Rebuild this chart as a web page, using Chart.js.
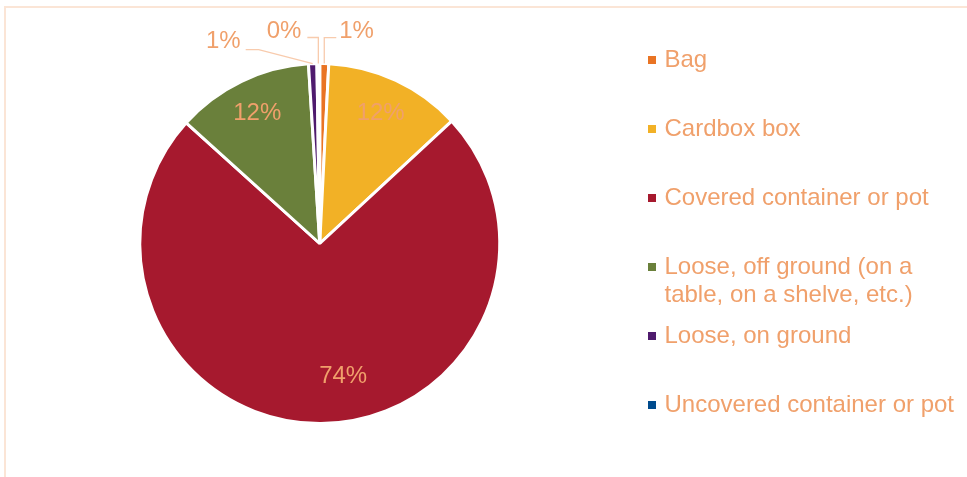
<!DOCTYPE html>
<html>
<head>
<meta charset="utf-8">
<script src="https://cdn.jsdelivr.net/npm/chart.js@4.4.1/dist/chart.umd.min.js"></script>
<style>
  html, body { margin: 0; padding: 0; background: #ffffff; }
  #wrap { width: 967px; height: 477px; position: relative; }
</style>
</head>
<body>
<div id="wrap"><canvas id="c" width="967" height="477"></canvas></div>
<script>
// ---- data ----
const categories = [
  'Bag',
  'Cardbox box',
  'Covered container or pot',
  'Loose, off ground (on a table, on a shelve, etc.)',
  'Loose, on ground',
  'Uncovered container or pot'
];
const shares = [0.8, 12.3, 73.6, 12.3, 0.75, 0.25];

// ---- styling ----
const TEXT_COLOR = '#F0A06B';
const FONT_FAMILY = '"Liberation Sans", Arial, sans-serif';
const LEGEND_WRAP = 300;

function wrapWords(text, maxW, font) {
  const m = document.createElement('canvas').getContext('2d');
  m.font = font;
  const words = text.split(' ');
  const lines = [];
  let cur = '';
  words.forEach(w => {
    const test = cur ? cur + ' ' + w : w;
    if (cur && m.measureText(test).width > maxW) { lines.push(cur); cur = w; }
    else cur = test;
  });
  if (cur) lines.push(cur);
  while (lines.length < 2) lines.push('');
  return lines;
}

const framePlugin = {
  id: 'frame',
  beforeDraw(chart, args, opts) {
    const c = chart.ctx;
    c.save();
    c.fillStyle = '#ffffff';
    c.fillRect(0, 0, chart.width, chart.height);
    c.strokeStyle = opts.color;
    c.lineWidth = 2;
    c.beginPath();
    c.moveTo(5, chart.height);
    c.lineTo(5, 7);
    c.lineTo(chart.width, 7);
    c.stroke();
    c.restore();
  }
};

const sliceLabels = {
  id: 'sliceLabels',
  afterDatasetsDraw(chart, args, opts) {
    const ctx = chart.ctx;
    const meta = chart.getDatasetMeta(0);
    const data = chart.data.datasets[0].data;
    const total = data.reduce((a, b) => a + b, 0);
    ctx.save();
    ctx.font = opts.font;
    ctx.fillStyle = opts.color;
    ctx.textBaseline = 'middle';
    meta.data.forEach((arc, i) => {
      const p = arc.getProps(['x', 'y', 'startAngle', 'endAngle', 'outerRadius'], true);
      const mid = (p.startAngle + p.endAngle) / 2;
      const text = Math.round(data[i] / total * 100) + '%';
      const out = opts.outside[i];
      if (out) {
        const ax = p.x + Math.cos(mid) * p.outerRadius;
        const ay = p.y + Math.sin(mid) * p.outerRadius;
        const ex = ax + out.elbow[0], ey = ay + out.elbow[1];
        const tx = ex + out.tail;
        ctx.strokeStyle = opts.leaderColor;
        ctx.lineWidth = opts.leaderWidth;
        ctx.beginPath();
        ctx.moveTo(ax, ay);
        ctx.lineTo(ex, ey);
        ctx.lineTo(tx, ey);
        ctx.stroke();
        ctx.textAlign = out.tail < 0 ? 'right' : 'left';
        ctx.fillText(text, tx + Math.sign(out.tail) * out.gap, ey + out.dy);
      } else {
        const nd = opts.nudge[i] || [0, 0];
        const r = p.outerRadius * opts.inset;
        ctx.textAlign = 'center';
        ctx.fillText(text, p.x + Math.cos(mid) * r + nd[0], p.y + Math.sin(mid) * r + nd[1]);
      }
    });
    ctx.restore();
  }
};

const legendFont = { family: FONT_FAMILY, size: 24, lineHeight: 28 / 24 };

new Chart(document.getElementById('c'), {
  type: 'pie',
  data: {
    labels: categories,
    datasets: [{
      data: shares,
      backgroundColor: ['#E97424', '#F2B126', '#A6192E', '#6A803B', '#4F1B6D', '#004B8D'],
      borderColor: '#ffffff',
      borderWidth: 3,
      radius: 180
    }]
  },
  options: {
    responsive: false,
    animation: false,
    devicePixelRatio: 1,
    layout: { padding: { left: 1, right: 3, top: 10, bottom: 0 } },
    plugins: {
      tooltip: { enabled: false },
      frame: { color: '#FBE5D6' },
      sliceLabels: {
        font: '24px ' + FONT_FAMILY,
        color: TEXT_COLOR,
        leaderColor: '#F8CBAD',
        leaderWidth: 1.3,
        inset: 0.8,
        nudge: { 2: [22.5, -11] },
        outside: {
          0: { elbow: [0, -26], tail: 12, gap: 3, dy: -6 },
          4: { elbow: [-54, -14], tail: -13, gap: 5, dy: -8 },
          5: { elbow: [0, -26], tail: -11, gap: 6, dy: -6 }
        }
      },
      legend: {
        position: 'right',
        align: 'center',
        title: { display: true, text: '', font: { size: 10, lineHeight: 1 }, padding: 0 },
        labels: {
          usePointStyle: true,
          pointStyle: 'rect',
          boxWidth: 1,
          boxHeight: 8,
          padding: 13,
          color: TEXT_COLOR,
          font: legendFont,
          generateLabels(chart) {
            const ds = chart.data.datasets[0];
            return chart.data.labels.map((lab, i) => ({
              text: wrapWords(lab, LEGEND_WRAP, '24px ' + FONT_FAMILY),
              fillStyle: ds.backgroundColor[i],
              strokeStyle: 'rgba(0,0,0,0)',
              lineWidth: 0,
              pointStyle: 'rect',
              fontColor: TEXT_COLOR,
              hidden: false,
              index: i
            }));
          }
        }
      }
    }
  },
  plugins: [framePlugin, sliceLabels]
});
</script>
</body>
</html>
